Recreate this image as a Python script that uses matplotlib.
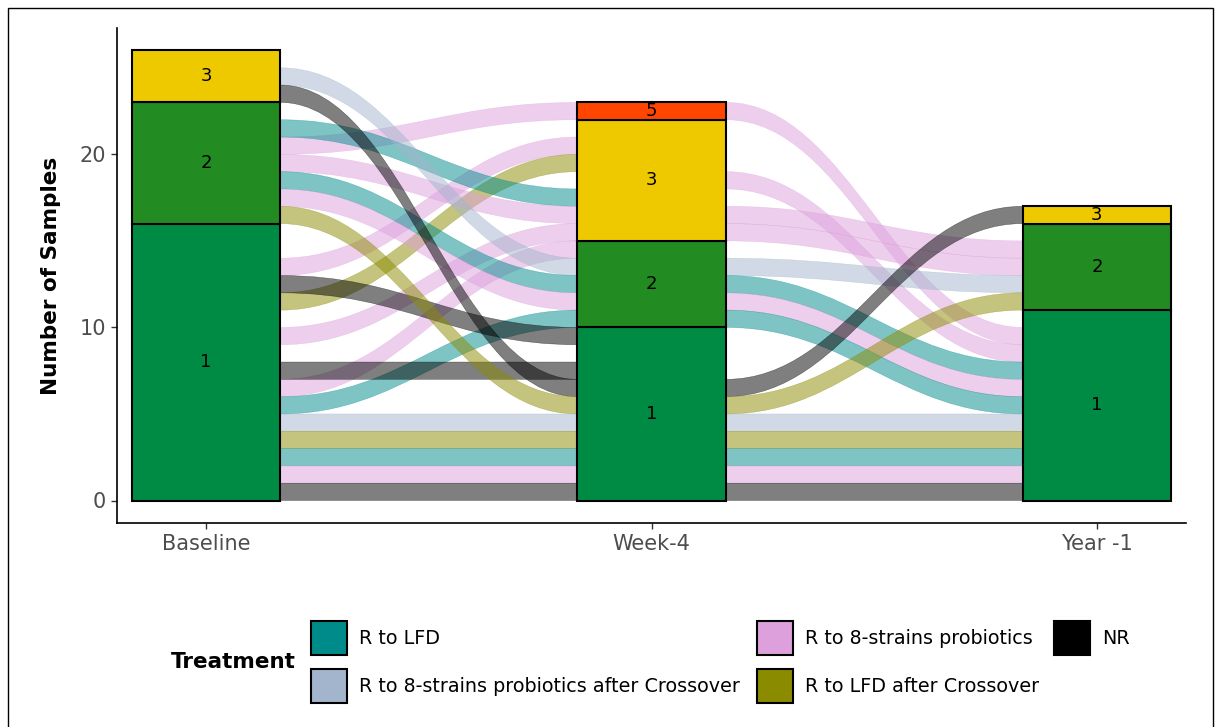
import numpy as np
import matplotlib.pyplot as plt
from matplotlib.patches import Rectangle, PathPatch
from matplotlib.path import Path

# ---------------- data ----------------
stages = ["Baseline", "Week-4", "Year -1"]

response_levels = ["1", "2", "3", "5"]
response_colors = ["#008B45", "#228B22", "#EEC900", "#FF4500"]
counts_baseline = [16, 7, 3, 0]
counts_week4 = [10, 5, 7, 1]
counts_year1 = [11, 5, 1, 0]

treatments = ["R to LFD",
              "R to 8-strains probiotics after Crossover",
              "R to 8-strains probiotics",
              "R to LFD after Crossover",
              "NR"]
treatment_colors = ["#008B8B", "#A2B5CD", "#DDA0DD", "#8B8B00", "#000000"]

# one entry per sample: treatment index and lode slot at each stage (nan = not sampled)
nan = np.nan
sample_treatment = [2, 2, 3, 2, 0, 2, 2, 2, 1, 0, 2, 0, 4, 4, 4, 3, 1, 3, 0, 2, 4]
slot_baseline = [20, 13, 11, nan, 21, 19, 9, 6, 24, 18, 17, 5, 12, 7, 23, 16, 4, 3, 2, 1, 0]
slot_week4 = [22, 20, 19, 18, 17, 16, 15, 14, 13, 12, 11, 10, 9, 7, 6, 5, 4, 3, 2, 1, 0]
slot_year1 = [9, nan, nan, 8, nan, 14, 13, nan, 12, 7, 6, 5, nan, nan, 16, 11, 4, 3, 2, 1, 0]

# ---------------- figure ----------------
W, H = 1215, 727
fig = plt.figure(figsize=(W / 100, H / 100), dpi=100)


def px(x, y):
    return x / W, 1 - y / H


ax = fig.add_axes([117 / W, 1 - 523 / H, (1186 - 117) / W, (523 - 28) / H])

bar_w = 1 / 3
half = bar_w / 2
xpos = np.arange(len(stages))
slots = [np.array(slot_baseline, float), np.array(slot_week4, float), np.array(slot_year1, float)]


def flow_path(x0, y0, x1, y1, k):
    verts = [(x0, y0), (x0 + k, y0), (x1 - k, y1), (x1, y1),
             (x1, y1 + 1),
             (x1 - k, y1 + 1), (x0 + k, y0 + 1), (x0, y0 + 1),
             (x0, y0)]
    codes = [Path.MOVETO, Path.CURVE4, Path.CURVE4, Path.CURVE4,
             Path.LINETO,
             Path.CURVE4, Path.CURVE4, Path.CURVE4,
             Path.CLOSEPOLY]
    return Path(verts, codes)


# flows between consecutive stages
for i in range(len(stages) - 1):
    x0 = xpos[i] + half
    x1 = xpos[i + 1] - half
    k = 0.42 * (x1 - x0)
    for s, t in enumerate(sample_treatment):
        a, b = slots[i][s], slots[i + 1][s]
        if np.isnan(a) or np.isnan(b):
            continue
        col = treatment_colors[t]
        patch = PathPatch(flow_path(x0, a, x1, b, k), facecolor=col, alpha=0.5,
                          edgecolor=col, lw=0.35, zorder=2)
        ax.add_patch(patch)

# stacked strata
for i, counts in enumerate([counts_baseline, counts_week4, counts_year1]):
    bottom = 0
    for lvl, c, color in zip(response_levels, counts, response_colors):
        if c == 0:
            continue
        ax.add_patch(Rectangle((xpos[i] - half, bottom), bar_w, c, facecolor=color,
                               edgecolor="black", lw=1.5, zorder=3))
        ax.text(xpos[i], bottom + c / 2, lvl, ha="center", va="center",
                fontsize=13, color="black", zorder=4)
        bottom += c

ax.set_xlim(-0.2, 2.2)
ax.set_ylim(-1.3, 27.3)
ax.set_xticks(xpos)
ax.set_xticklabels(stages)
ax.set_yticks([0, 10, 20])
for side in ["top", "right"]:
    ax.spines[side].set_visible(False)
for side in ["left", "bottom"]:
    ax.spines[side].set_linewidth(1.2)
    ax.spines[side].set_color("black")
ax.tick_params(axis="both", length=4, width=1, color="#333333", labelsize=15,
               labelcolor="#4D4D4D", pad=4)
ax.set_ylabel("Number of Samples", fontsize=15.5, fontweight="bold")
ax.yaxis.set_label_coords(-0.052, 0.5)

# legend
fig.text(*px(171, 662), "Treatment", fontsize=15.5, fontweight="bold",
         ha="left", va="center")
col_left = [311, 757, 1054]
row_top = [621, 669]
key_w, key_h = 36, 34
for i, (name, color) in enumerate(zip(treatments, treatment_colors)):
    c, r = divmod(i, 2)
    x, y = col_left[c], row_top[r]
    fx, fy = px(x, y + key_h)
    fig.add_artist(Rectangle((fx, fy), key_w / W, key_h / H, facecolor=color,
                             edgecolor="black", lw=1.5, transform=fig.transFigure))
    fig.text(*px(x + key_w + 12, y + key_h / 2), name, fontsize=13.8,
             ha="left", va="center", color="black")

# outer frame
fx0, fy0 = px(8, H + 10)
fig.add_artist(Rectangle((fx0, fy0), (1213 - 8) / W, (H + 10 - 8) / H, fill=False,
                         edgecolor="black", lw=1, transform=fig.transFigure))

fig.savefig("out.png", dpi=100)
